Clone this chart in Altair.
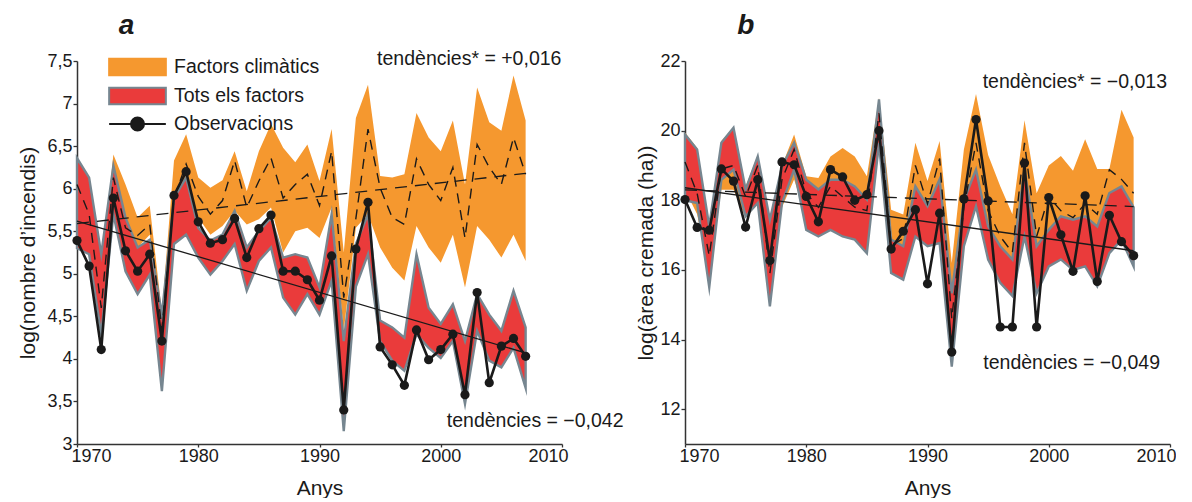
import altair as alt
import pandas as pd

# ---------------- data ----------------
years = list(range(1970, 2008))

# panel a : log(nombre d'incendis)
a_obs = [5.39, 5.09, 4.11, 5.89, 5.27, 5.03, 5.23, 4.21, 5.92, 6.20,
         5.61, 5.36, 5.40, 5.65, 5.19, 5.53, 5.69, 5.03, 5.03, 4.93,
         4.69, 5.21, 3.40, 5.29, 5.84, 4.14, 3.93, 3.69, 4.34, 3.99,
         4.11, 4.29, 3.58, 4.78, 3.72, 4.15, 4.24, 4.03]
a_clim_hi = [6.25, 6.05, 5.00, 6.40, 6.05, 5.66, 5.80, 4.55, 6.33, 6.64,
             6.13, 6.01, 6.10, 6.44, 5.97, 6.44, 6.76, 6.48, 6.31, 6.52,
             6.09, 6.70, 5.25, 6.83, 7.22, 6.15, 6.13, 6.17, 6.89, 6.60,
             6.44, 6.80, 6.05, 7.19, 6.78, 6.68, 7.33, 6.80]
a_clim_lo = [5.50, 5.30, 4.40, 5.75, 5.39, 5.31, 5.46, 4.29, 5.70, 5.97,
             5.66, 5.46, 5.56, 5.74, 5.58, 5.64, 5.78, 5.25, 5.50, 5.54,
             5.42, 5.78, 4.33, 5.54, 5.70, 5.31, 5.07, 4.92, 5.56, 5.31,
             5.13, 5.46, 4.84, 5.56, 5.40, 5.19, 5.46, 5.15]
a_clim_med = [6.05, 5.70, 4.60, 6.13, 5.54, 5.45, 5.58, 4.35, 5.89, 6.29,
              5.91, 5.70, 5.86, 6.33, 5.78, 6.09, 6.36, 5.89, 6.05, 6.17,
              5.80, 6.44, 4.72, 5.65, 6.70, 6.01, 5.66, 5.58, 6.35, 6.05,
              5.86, 6.25, 5.42, 6.52, 6.25, 6.05, 6.60, 6.17]
a_all_hi = [6.36, 6.13, 5.23, 6.27, 5.66, 5.31, 5.40, 4.52, 5.89, 6.13,
            5.54, 5.39, 5.46, 5.74, 5.31, 5.50, 5.66, 5.19, 5.23, 5.19,
            4.84, 5.70, 4.21, 5.35, 5.70, 4.45, 4.37, 4.25, 5.23, 4.60,
            4.41, 4.64, 4.21, 4.76, 4.52, 4.33, 4.80, 4.37]
a_all_lo = [5.30, 5.23, 4.29, 5.70, 5.03, 4.76, 4.99, 3.62, 5.35, 5.46,
            5.19, 4.99, 5.15, 5.35, 4.80, 5.15, 5.31, 4.72, 4.52, 4.76,
            4.52, 4.92, 3.15, 4.85, 5.23, 4.21, 3.98, 3.86, 4.29, 4.13,
            4.01, 4.21, 3.47, 4.33, 3.98, 3.90, 4.13, 3.66]

# panel b : log(àrea cremada (ha))
b_obs = [18.02, 17.22, 17.14, 18.90, 18.55, 17.23, 18.59, 16.27, 19.10, 19.02,
         18.11, 17.38, 18.88, 18.67, 18.00, 18.16, 20.00, 16.60, 17.11, 17.73,
         15.60, 17.63, 13.64, 18.04, 20.32, 17.98, 14.36, 14.36, 19.07, 14.36,
         18.08, 17.01, 15.96, 18.13, 15.67, 17.57, 16.81, 16.41]
b_clim_hi = [19.95, 19.50, 17.30, 19.70, 20.10, 18.40, 19.30, 17.50, 19.00, 19.89,
             18.69, 18.64, 19.26, 19.50, 19.26, 18.69, 20.94, 17.73, 17.59, 19.65,
             18.55, 19.70, 16.20, 19.46, 21.05, 19.30, 18.40, 17.60, 20.30, 18.20,
             19.00, 19.27, 18.85, 19.75, 18.90, 18.90, 20.60, 19.80]
b_clim_lo = [18.30, 17.60, 15.90, 18.30, 18.30, 17.50, 17.90, 15.60, 17.80, 18.60,
             17.50, 17.30, 17.60, 17.40, 17.40, 17.10, 19.40, 16.50, 16.40, 17.60,
             17.00, 17.80, 14.00, 17.20, 18.80, 17.00, 16.20, 15.90, 18.40, 16.30,
             17.10, 16.90, 16.90, 17.10, 16.80, 17.80, 17.70, 17.40]
b_clim_med = [19.10, 18.20, 16.40, 18.90, 19.00, 18.10, 19.00, 15.90, 18.60, 19.46,
              18.20, 17.80, 18.40, 18.10, 17.80, 17.70, 20.50, 16.70, 16.90, 19.00,
              17.90, 19.20, 14.60, 17.80, 19.65, 17.70, 16.96, 16.50, 19.65, 16.96,
              18.10, 17.70, 17.50, 17.90, 17.60, 18.88, 18.60, 18.20]
b_all_hi = [19.89, 19.46, 17.25, 19.65, 20.08, 18.31, 19.26, 17.44, 18.98, 19.65,
            18.59, 18.31, 18.59, 18.59, 18.40, 18.02, 20.90, 16.87, 16.68, 18.40,
            17.83, 18.60, 15.33, 18.00, 18.88, 17.25, 16.68, 16.30, 18.88, 16.68,
            17.15, 17.54, 17.44, 17.54, 17.25, 18.21, 18.40, 17.80]
b_all_lo = [18.00, 17.92, 15.50, 18.59, 18.88, 17.54, 17.92, 14.95, 17.92, 18.88,
            17.15, 16.96, 17.15, 16.96, 16.87, 16.48, 19.65, 15.91, 15.72, 16.96,
            16.68, 16.77, 13.22, 16.68, 17.83, 16.30, 15.63, 15.25, 16.96, 15.33,
            16.10, 16.30, 16.00, 16.10, 15.53, 16.48, 16.87, 16.10]

# linear trends (end points)
trend_years = [1970, 2007]
a_trend_obs = [5.62, 4.07]
a_trend_clim = [5.59, 6.18]
b_trend_obs = [18.36, 16.55]
b_trend_clim = [18.30, 17.82]

x_ticks = [1970, 1980, 1990, 2000, 2010]
a_y_ticks = [3, 3.5, 4, 4.5, 5, 5.5, 6, 6.5, 7, 7.5]
b_y_ticks = [12, 14, 16, 18, 20, 22]

legend_labels = ["Factors climàtics", "Tots els factors", "Observacions"]

# ---------------- style ----------------
FONT = "Liberation Sans"
ORANGE = "#F5982F"
RED = "#EA3B3B"
GRAY = "#768690"
INK = "#1a1a1a"
AXIS = "#333333"


def panel(obs, clo, chi, cmed, alo, ahi, t_obs, t_clim, ydom, yticks, ytitle,
          ytitle_pad, letter, notes, with_legend=False):
    df = pd.DataFrame({"year": years, "obs": obs, "clo": clo, "chi": chi,
                       "cmed": cmed, "alo": alo, "ahi": ahi})
    tr = pd.DataFrame({"year": trend_years, "tobs": t_obs, "tclim": t_clim})

    xs = alt.Scale(domain=[1970, 2010], nice=False, zero=False)
    ys = alt.Scale(domain=ydom, nice=False, zero=False)
    xax = alt.Axis(values=x_ticks, format="d", title="Anys", grid=False,
                   tickSize=3, labelPadding=0, titlePadding=12,
                   labelFlush=True, labelFlushOffset=6)
    yax = alt.Axis(values=yticks, grid=False, title=ytitle, tickSize=4,
                   labelPadding=1, titlePadding=ytitle_pad,
                   labelExpr="replace(toString(datum.value), '.', ',')")

    def X(f="year"):
        return alt.X(f"{f}:Q", scale=xs, axis=xax)

    def Y(f):
        return alt.Y(f"{f}:Q", scale=ys, axis=yax)

    base = alt.Chart(df)
    orange = base.mark_area(color=ORANGE).encode(x=X(), y=Y("clo"), y2="chi:Q")
    red = base.mark_area(color=RED, stroke=GRAY, strokeWidth=2.4, strokeJoin="miter",
                         strokeMiterLimit=8).encode(x=X(), y=Y("alo"), y2="ahi:Q")
    med = base.mark_line(color=INK, strokeWidth=1.4, strokeDash=[10, 7]).encode(x=X(), y=Y("cmed"))
    tr_clim = alt.Chart(tr).mark_line(color=INK, strokeWidth=1.3, strokeDash=[12, 8]).encode(
        x=X(), y=Y("tclim"))
    tr_obs = alt.Chart(tr).mark_line(color=INK, strokeWidth=1.3).encode(x=X(), y=Y("tobs"))
    obs_line = base.mark_line(color=INK, strokeWidth=2.6).encode(x=X(), y=Y("obs"))
    obs_pts = base.mark_circle(color=INK, size=85, opacity=1).encode(x=X(), y=Y("obs"))

    one = alt.Chart(pd.DataFrame({"k": [0]}))
    layers = [orange, red, med, tr_clim, tr_obs, obs_line, obs_pts]
    for txt, nx, ny in notes:
        layers.append(
            one.mark_text(text=txt, align="left", baseline="middle", font=FONT,
                          fontSize=19.5, color=INK).encode(
                x=alt.datum(nx, scale=xs), y=alt.datum(ny, scale=ys)))
    lt, lx, ly = letter
    layers.append(
        one.mark_text(text=lt, align="left", baseline="alphabetic", font=FONT,
                      fontSize=28, fontStyle="italic", fontWeight="bold", color=INK).encode(
            x=alt.datum(lx, scale=xs), y=alt.datum(ly, scale=ys)))

    if with_legend:
        leg_df = pd.DataFrame({"serie": legend_labels})
        swatch = "M-2.7,-0.78H2.7V0.78H-2.7Z"
        dotline = ("M-2.7,0H-0.62M0.62,0H2.7M0.62,0A0.62,0.62,0,1,1,-0.62,0"
                   "A0.62,0.62,0,1,1,0.62,0Z")
        leg = alt.Legend(title=None, orient="none", legendX=49, legendY=-5.5,
                         symbolSize=441, symbolStrokeWidth=2, symbolOpacity=1,
                         labelFontSize=19.5, labelFont=FONT, labelColor=INK,
                         labelOffset=25, rowPadding=4, padding=0, labelLimit=400)
        legend_layer = alt.Chart(leg_df).mark_point(filled=True, opacity=0).encode(
            x=alt.datum(1970, scale=xs), y=alt.datum(ydom[0], scale=ys),
            shape=alt.Shape("serie:N", scale=alt.Scale(domain=legend_labels,
                                                       range=[swatch, swatch, dotline]), legend=leg),
            fill=alt.Fill("serie:N", scale=alt.Scale(domain=legend_labels,
                                                     range=[ORANGE, RED, INK]), legend=leg),
            stroke=alt.Stroke("serie:N", scale=alt.Scale(domain=legend_labels,
                                                         range=[ORANGE, GRAY, INK]), legend=leg),
        )
        layers.append(legend_layer)

    return alt.layer(*layers).properties(width=485, height=383)


pa = panel(a_obs, a_clim_lo, a_clim_hi, a_clim_med, a_all_lo, a_all_hi,
           a_trend_obs, a_trend_clim, [3, 7.5], a_y_ticks, "log(nombre d’incendis)", 8,
           ("a", 1973.45, 7.82),
           [("tendències* = +0,016", 1994.75, 7.52), ("tendències = −0,042", 2000.5, 3.27)],
           with_legend=True)
pb = panel(b_obs, b_clim_lo, b_clim_hi, b_clim_med, b_all_lo, b_all_hi,
           b_trend_obs, b_trend_clim, [11, 22], b_y_ticks, "log(àrea cremada (ha))", 3,
           ("b", 1974.3, 22.78),
           [("tendències* = −0,013", 1994.55, 21.39), ("tendències = −0,049", 1994.6, 13.34)])

chart = alt.hconcat(pa, pb, spacing=123, bounds="flush").resolve_scale(
    fill="independent", stroke="independent", shape="independent"
).properties(
    padding={"left": 9, "top": 3, "right": 0, "bottom": 0}
).configure(font=FONT).configure_view(stroke=None).configure_axis(
    domainColor=AXIS, domainWidth=1.5, tickColor=AXIS, tickWidth=1.3,
    labelFont=FONT, labelFontSize=18, labelColor=INK,
    titleFont=FONT, titleFontSize=21, titleFontWeight="normal", titleColor=INK,
)

chart.save("out.html", embed_options={"renderer": "svg", "actions": False})
